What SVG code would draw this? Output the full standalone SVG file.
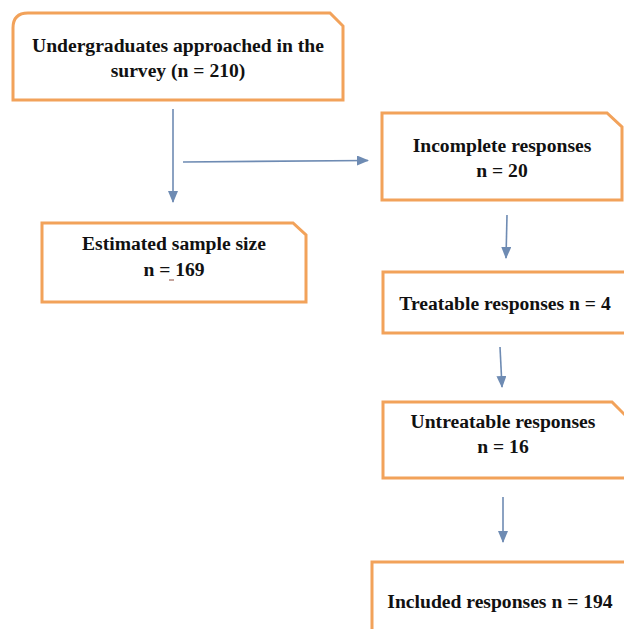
<svg xmlns="http://www.w3.org/2000/svg" width="624" height="629" viewBox="0 0 624 629">
<style>
.box{fill:#fff;stroke:#F2A25A;stroke-width:3;stroke-linejoin:miter}
.t{font-family:"Liberation Serif","Times New Roman",serif;font-weight:bold;font-size:19.6px;fill:#111;text-anchor:middle}
.c{stroke:#6E8BB3;stroke-width:1.6;fill:none;marker-end:url(#ah)}
</style>
<defs>
<marker id="ah" markerWidth="12" markerHeight="10" refX="11" refY="5" orient="auto" markerUnits="userSpaceOnUse" viewBox="0 0 12 10">
<path d="M0,0 L12,5 L0,10 Z" fill="#6E8BB3"/>
</marker>
</defs>
<rect width="624" height="629" fill="#fff"/>
<g id="connectors">
<line class="c" x1="173" y1="109" x2="173" y2="202"/>
<line class="c" x1="183" y1="162" x2="368" y2="160.5"/>
<line class="c" x1="507" y1="215" x2="506" y2="258"/>
<line class="c" x1="500" y1="347" x2="502" y2="387"/>
<line class="c" x1="503" y1="497" x2="503" y2="542"/>
</g>
<g id="n1">
<path class="box" d="M13,28 Q13,13 28,13 L330,13 L343,26 L343,100 L13,100 Z"/>
<text class="t" x="178" y="52">Undergraduates approached in the</text>
<text class="t" x="178" y="77">survey (n = 210)</text>
</g>
<g id="n2">
<path class="box" d="M382,113 L607,113 L622,127 L622,200 L382,200 Z"/>
<text class="t" x="502" y="152">Incomplete responses</text>
<text class="t" x="502" y="177">n = 20</text>
</g>
<g id="n3">
<path class="box" d="M42,223 L293,223 L306,235 L306,302 L42,302 Z"/>
<text class="t" x="174" y="250">Estimated sample size</text>
<text class="t" x="174" y="276">n = 169</text>
<line x1="169" y1="280" x2="174" y2="280" stroke="#8B4A3A" stroke-width="1"/>
</g>
<g id="n4">
<path class="box" d="M383,272 L630,272 L630,333 L383,333 Z"/>
<text class="t" x="505" y="310">Treatable responses n = 4</text>
</g>
<g id="n5">
<path class="box" d="M383,402 L612,402 L626,416 L626,478 L383,478 Z"/>
<text class="t" x="503" y="428">Untreatable responses</text>
<text class="t" x="503" y="453">n = 16</text>
</g>
<g id="n6">
<path class="box" d="M372,562 L632,562 L632,640 L372,640 Z"/>
<text class="t" x="500" y="608">Included responses n = 194</text>
</g>
</svg>
